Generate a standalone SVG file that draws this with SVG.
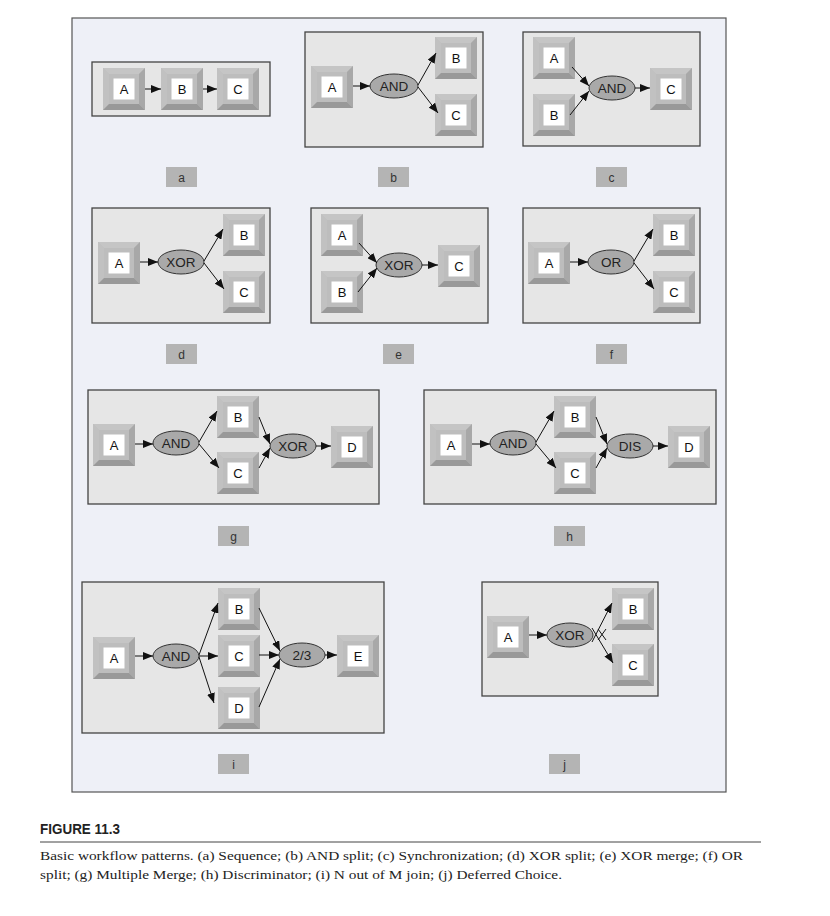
<svg xmlns="http://www.w3.org/2000/svg" xmlns:xlink="http://www.w3.org/1999/xlink" width="830" height="916" viewBox="0 0 830 916">
<style>
.frame{fill:#eef0f7;stroke:#555;stroke-width:1.2}
.panel{fill:#e6e6e6;stroke:#444;stroke-width:1.3}
.lt{font-family:"Liberation Sans",Arial,sans-serif;font-size:13px;fill:#111;text-anchor:middle}
.gw{fill:#a9a9a9;stroke:#333;stroke-width:1}
.gt{font-family:"Liberation Sans",Arial,sans-serif;font-size:13.5px;fill:#222;text-anchor:middle}
.lb{fill:#b4b4b4}
.lbt{font-family:"Liberation Sans",Arial,sans-serif;font-size:12px;fill:#333;text-anchor:middle}
.cn line{stroke:#111;stroke-width:1;marker-end:url(#ah)}
.cn line.nm{marker-end:none}
.cap{font-family:"Liberation Serif","Times New Roman",serif;font-size:13.5px;fill:#222}
</style>
<defs>
<marker id="ah" markerUnits="userSpaceOnUse" markerWidth="10" markerHeight="8" refX="10" refY="4" orient="auto" viewBox="0 0 10 8">
<path d="M0,0 L10,4 L0,8 z" fill="#111"/>
</marker>
<symbol id="nd" viewBox="0 0 42 42" width="42" height="42">
<rect x="0" y="0" width="42" height="42" fill="#bdbdbd"/>
<polygon points="0,0 42,0 36,6 6,6" fill="#c5c5c5"/>
<polygon points="0,0 6,6 6,36 0,42" fill="#c1c1c1"/>
<polygon points="42,0 42,42 36,36 36,6" fill="#a8a8a8"/>
<polygon points="0,42 42,42 36,36 6,36" fill="#999999"/>
<rect x="10.5" y="10.5" width="21" height="21" fill="#ffffff"/>
</symbol>
</defs>
<rect class="frame" x="72" y="18" width="654" height="774"/>

<!-- panel a -->
<g id="panel-a">
<rect class="panel" x="92" y="62" width="178" height="54"/>
<g id="a-A"><use xlink:href="#nd" x="103" y="68"/><text class="lt" x="124" y="94">A</text></g>
<g id="a-B"><use xlink:href="#nd" x="161" y="68"/><text class="lt" x="182" y="94">B</text></g>
<g id="a-C"><use xlink:href="#nd" x="217" y="68"/><text class="lt" x="238" y="94">C</text></g>
<g class="cn"><line x1="145" y1="89" x2="161" y2="89"/><line x1="203" y1="89" x2="217" y2="89"/></g>
<g id="lab-a"><rect class="lb" x="166" y="167" width="31" height="20"/><text class="lbt" x="181.5" y="182">a</text></g>
</g>

<!-- panel b -->
<g id="panel-b">
<rect class="panel" x="305" y="32" width="178" height="115"/>
<g id="b-A"><use xlink:href="#nd" x="311" y="66"/><text class="lt" x="332" y="92">A</text></g>
<g id="b-AND"><ellipse class="gw" cx="394" cy="86" rx="24" ry="12"/><text class="gt" x="394" y="91">AND</text></g>
<g id="b-B"><use xlink:href="#nd" x="435" y="37"/><text class="lt" x="456" y="63">B</text></g>
<g id="b-C"><use xlink:href="#nd" x="435" y="94"/><text class="lt" x="456" y="120">C</text></g>
<g class="cn"><line x1="353" y1="86" x2="370" y2="86"/><line x1="418" y1="85" x2="436" y2="53"/><line x1="418" y1="87" x2="438" y2="113"/></g>
<g id="lab-b"><rect class="lb" x="378" y="167" width="31" height="20"/><text class="lbt" x="393.5" y="182">b</text></g>
</g>

<!-- panel c -->
<g id="panel-c">
<rect class="panel" x="523" y="32" width="177" height="114"/>
<g id="c-A"><use xlink:href="#nd" x="533" y="37"/><text class="lt" x="554" y="63">A</text></g>
<g id="c-B"><use xlink:href="#nd" x="533" y="94"/><text class="lt" x="554" y="120">B</text></g>
<g id="c-AND"><ellipse class="gw" cx="612" cy="88" rx="23" ry="12"/><text class="gt" x="612" y="93">AND</text></g>
<g id="c-C"><use xlink:href="#nd" x="650" y="68"/><text class="lt" x="671" y="94">C</text></g>
<g class="cn"><line x1="572" y1="67" x2="589" y2="86"/><line x1="570" y1="115" x2="589" y2="91"/><line x1="635" y1="88" x2="650" y2="88"/></g>
<g id="lab-c"><rect class="lb" x="596" y="167" width="31" height="20"/><text class="lbt" x="611.5" y="182">c</text></g>
</g>

<!-- panel d -->
<g id="panel-d">
<rect class="panel" x="92" y="208" width="178" height="115"/>
<g id="d-A"><use xlink:href="#nd" x="98" y="242"/><text class="lt" x="119" y="268">A</text></g>
<g id="d-XOR"><ellipse class="gw" cx="181" cy="262" rx="23" ry="12"/><text class="gt" x="181" y="267">XOR</text></g>
<g id="d-B"><use xlink:href="#nd" x="223" y="214"/><text class="lt" x="244" y="240">B</text></g>
<g id="d-C"><use xlink:href="#nd" x="223" y="271"/><text class="lt" x="244" y="297">C</text></g>
<g class="cn"><line x1="140" y1="262" x2="158" y2="262"/><line x1="204" y1="261" x2="223" y2="229"/><line x1="204" y1="263" x2="224" y2="289"/></g>
<g id="lab-d"><rect class="lb" x="166" y="344" width="31" height="20"/><text class="lbt" x="181.5" y="359">d</text></g>
</g>

<!-- panel e -->
<g id="panel-e">
<rect class="panel" x="311" y="208" width="177" height="115"/>
<g id="e-A"><use xlink:href="#nd" x="321" y="214"/><text class="lt" x="342" y="240">A</text></g>
<g id="e-B"><use xlink:href="#nd" x="321" y="271"/><text class="lt" x="342" y="297">B</text></g>
<g id="e-XOR"><ellipse class="gw" cx="399" cy="265" rx="23" ry="12"/><text class="gt" x="399" y="270">XOR</text></g>
<g id="e-C"><use xlink:href="#nd" x="438" y="245"/><text class="lt" x="459" y="271">C</text></g>
<g class="cn"><line x1="359" y1="243" x2="377" y2="263"/><line x1="358" y1="292" x2="377" y2="268"/><line x1="422" y1="265" x2="438" y2="265"/></g>
<g id="lab-e"><rect class="lb" x="383" y="344" width="31" height="20"/><text class="lbt" x="398.5" y="359">e</text></g>
</g>

<!-- panel f -->
<g id="panel-f">
<rect class="panel" x="523" y="208" width="177" height="115"/>
<g id="f-A"><use xlink:href="#nd" x="528" y="242"/><text class="lt" x="549" y="268">A</text></g>
<g id="f-OR"><ellipse class="gw" cx="611" cy="262" rx="23" ry="12"/><text class="gt" x="611" y="267">OR</text></g>
<g id="f-B"><use xlink:href="#nd" x="653" y="214"/><text class="lt" x="674" y="240">B</text></g>
<g id="f-C"><use xlink:href="#nd" x="653" y="271"/><text class="lt" x="674" y="297">C</text></g>
<g class="cn"><line x1="570" y1="262" x2="588" y2="262"/><line x1="634" y1="261" x2="653" y2="229"/><line x1="634" y1="263" x2="654" y2="289"/></g>
<g id="lab-f"><rect class="lb" x="596" y="344" width="31" height="20"/><text class="lbt" x="611.5" y="359">f</text></g>
</g>

<!-- panel g -->
<g id="panel-g">
<rect class="panel" x="88" y="390" width="291" height="114"/>
<g id="g-A"><use xlink:href="#nd" x="93" y="424"/><text class="lt" x="114" y="450">A</text></g>
<g id="g-AND"><ellipse class="gw" cx="176" cy="443" rx="23" ry="12"/><text class="gt" x="176" y="448">AND</text></g>
<g id="g-B"><use xlink:href="#nd" x="217" y="396"/><text class="lt" x="238" y="422">B</text></g>
<g id="g-C"><use xlink:href="#nd" x="217" y="452"/><text class="lt" x="238" y="478">C</text></g>
<g id="g-XOR"><ellipse class="gw" cx="293" cy="446" rx="23" ry="12"/><text class="gt" x="293" y="451">XOR</text></g>
<g id="g-D"><use xlink:href="#nd" x="331" y="426"/><text class="lt" x="352" y="452">D</text></g>
<g class="cn"><line x1="135" y1="444" x2="153" y2="444"/><line x1="199" y1="442" x2="217" y2="411"/><line x1="199" y1="444" x2="219" y2="468"/><line x1="259" y1="417" x2="270" y2="444"/><line x1="259" y1="468" x2="270" y2="448"/><line x1="316" y1="446" x2="331" y2="446"/></g>
<g id="lab-g"><rect class="lb" x="218" y="526" width="31" height="20"/><text class="lbt" x="233.5" y="541">g</text></g>
</g>

<!-- panel h -->
<g id="panel-h">
<rect class="panel" x="424" y="390" width="292" height="114"/>
<g id="h-A"><use xlink:href="#nd" x="430" y="424"/><text class="lt" x="451" y="450">A</text></g>
<g id="h-AND"><ellipse class="gw" cx="513" cy="443" rx="23" ry="12"/><text class="gt" x="513" y="448">AND</text></g>
<g id="h-B"><use xlink:href="#nd" x="554" y="396"/><text class="lt" x="575" y="422">B</text></g>
<g id="h-C"><use xlink:href="#nd" x="554" y="452"/><text class="lt" x="575" y="478">C</text></g>
<g id="h-DIS"><ellipse class="gw" cx="630" cy="446" rx="23" ry="12"/><text class="gt" x="630" y="451">DIS</text></g>
<g id="h-D"><use xlink:href="#nd" x="668" y="426"/><text class="lt" x="689" y="452">D</text></g>
<g class="cn"><line x1="472" y1="444" x2="490" y2="444"/><line x1="536" y1="442" x2="554" y2="411"/><line x1="536" y1="444" x2="556" y2="468"/><line x1="596" y1="417" x2="607" y2="444"/><line x1="596" y1="468" x2="607" y2="448"/><line x1="653" y1="446" x2="668" y2="446"/></g>
<g id="lab-h"><rect class="lb" x="554" y="526" width="31" height="20"/><text class="lbt" x="569.5" y="541">h</text></g>
</g>

<!-- panel i -->
<g id="panel-i">
<rect class="panel" x="82" y="582" width="302" height="151"/>
<g id="i-A"><use xlink:href="#nd" x="93" y="637"/><text class="lt" x="114" y="663">A</text></g>
<g id="i-AND"><ellipse class="gw" cx="176" cy="656" rx="23" ry="12"/><text class="gt" x="176" y="661">AND</text></g>
<g id="i-B"><use xlink:href="#nd" x="218" y="588"/><text class="lt" x="239" y="614">B</text></g>
<g id="i-C"><use xlink:href="#nd" x="218" y="635"/><text class="lt" x="239" y="661">C</text></g>
<g id="i-D"><use xlink:href="#nd" x="218" y="687"/><text class="lt" x="239" y="713">D</text></g>
<g id="i-23"><ellipse class="gw" cx="302" cy="655" rx="23" ry="12"/><text class="gt" x="302" y="660">2/3</text></g>
<g id="i-E"><use xlink:href="#nd" x="337" y="635"/><text class="lt" x="358" y="661">E</text></g>
<g class="cn"><line x1="135" y1="656" x2="153" y2="656"/><line x1="199" y1="655" x2="218" y2="603"/><line x1="199" y1="656" x2="218" y2="656"/><line x1="199" y1="657" x2="214" y2="703"/><line x1="259" y1="608" x2="280" y2="651"/><line x1="259" y1="655" x2="279" y2="655"/><line x1="259" y1="707" x2="280" y2="659"/><line x1="325" y1="655" x2="337" y2="655"/></g>
<g id="lab-i"><rect class="lb" x="218" y="754" width="31" height="20"/><text class="lbt" x="233.5" y="769">i</text></g>
</g>

<!-- panel j -->
<g id="panel-j">
<rect class="panel" x="482" y="582" width="176" height="114"/>
<g id="j-A"><use xlink:href="#nd" x="487" y="616"/><text class="lt" x="508" y="642">A</text></g>
<g id="j-XOR"><ellipse class="gw" cx="570" cy="635" rx="23" ry="12"/><text class="gt" x="570" y="640">XOR</text></g>
<g id="j-B"><use xlink:href="#nd" x="612" y="588"/><text class="lt" x="633" y="614">B</text></g>
<g id="j-C"><use xlink:href="#nd" x="612" y="644"/><text class="lt" x="633" y="670">C</text></g>
<g class="cn"><line x1="529" y1="635" x2="547" y2="635"/><line x1="592" y1="642" x2="612" y2="603"/><line x1="592" y1="628" x2="613" y2="663"/><line class="nm" x1="598" y1="629" x2="606" y2="640"/><line class="nm" x1="606" y1="629" x2="598" y2="640"/></g>
<g id="lab-j"><rect class="lb" x="549" y="754" width="31" height="20"/><text class="lbt" x="564.5" y="769">j</text></g>
</g>

<!-- caption -->
<text x="40" y="834" font-family="'Liberation Sans',Arial,sans-serif" font-weight="bold" font-size="15" fill="#222" textLength="80" lengthAdjust="spacingAndGlyphs">FIGURE 11.3</text>
<line x1="40" y1="842" x2="761" y2="842" stroke="#444" stroke-width="1"/>
<text class="cap" x="40" y="860" textLength="703" lengthAdjust="spacingAndGlyphs">Basic workflow patterns. (a) Sequence; (b) AND split; (c) Synchronization; (d) XOR split; (e) XOR merge; (f) OR</text>
<text class="cap" x="40" y="879" textLength="522" lengthAdjust="spacingAndGlyphs">split; (g) Multiple Merge; (h) Discriminator; (i) N out of M join; (j) Deferred Choice.</text>
</svg>
